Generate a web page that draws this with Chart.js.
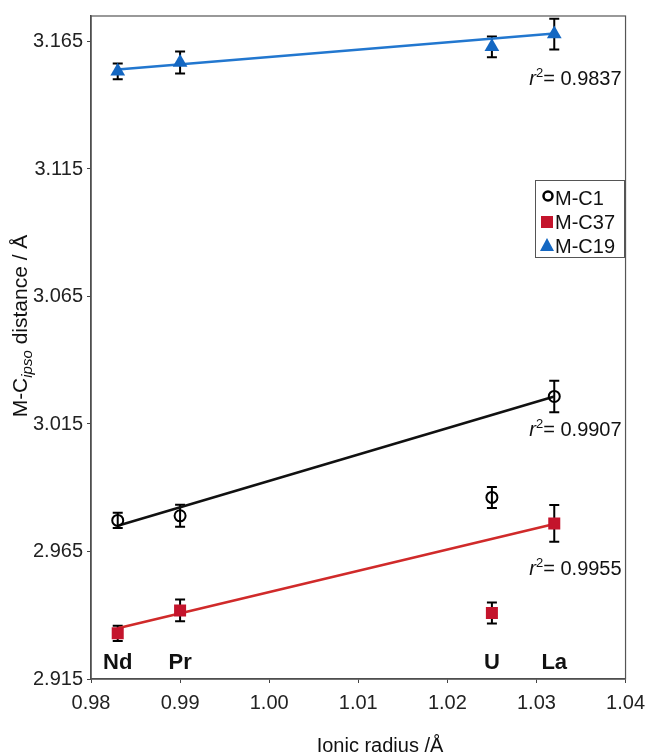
<!DOCTYPE html>
<html><head><meta charset="utf-8">
<script src="https://cdn.jsdelivr.net/npm/chart.js@4.4.0/dist/chart.umd.min.js"></script>
<style>html,body{margin:0;padding:0;background:#fff;}</style>
</head><body>
<canvas id="c" width="653" height="755"></canvas>
<script>
// ---- data ----
const elements = ['Nd', 'Pr', 'U', 'La'];
const ionicRadius = [0.983, 0.990, 1.025, 1.032];
const mc1 = [2.9772, 2.9790, 2.9862, 3.0258];
const mc1Err = [0.0030, 0.0043, 0.0041, 0.0062];
const mc37 = [2.9329, 2.9419, 2.9409, 2.9760];
const mc37Err = [0.0030, 0.0043, 0.0041, 0.0072];
const mc19 = [3.1533, 3.1568, 3.1629, 3.1679];
const mc19Err = [0.0031, 0.0043, 0.0041, 0.0060];
const fitX = [0.983, 1.032];
const fitC1 = [2.9751, 3.0258];
const fitC37 = [2.9349, 2.9758];
const fitC19 = [3.1540, 3.1681];
const r2Values = ['0.9837', '0.9907', '0.9955'];
const seriesNames = ['M-C1', 'M-C37', 'M-C19'];
const xTicks = [0.98, 0.99, 1.00, 1.01, 1.02, 1.03, 1.04];
const yTicks = [2.915, 2.965, 3.015, 3.065, 3.115, 3.165];

// ---- styling / annotation placement ----
const FONT = '"Liberation Sans", Arial, sans-serif';
const C_BLACK = '#000000', C_RED = '#c4142c', C_BLUE = '#1467c2';
const L_BLACK = '#111111', L_RED = '#d02a2a', L_BLUE = '#2277cf';
const r2Pos = [{x: 1.0292, y: 3.1506}, {x: 1.0292, y: 3.0129}, {x: 1.0292, y: 2.9587}];
const elemLabelY = 2.9212;

const pts = (xs, ys) => xs.map((x, i) => ({x, y: ys[i]}));

const errorBars = {
  id: 'errorBars',
  beforeDatasetsDraw(chart) {
    const {ctx, scales: {x, y}} = chart;
    ctx.save();
    ctx.strokeStyle = '#000';
    ctx.lineWidth = 2;
    [[mc1, mc1Err], [mc37, mc37Err], [mc19, mc19Err]].forEach(([vals, errs]) => {
      vals.forEach((v, i) => {
        const px = x.getPixelForValue(ionicRadius[i]);
        const top = y.getPixelForValue(v + errs[i]);
        const bot = y.getPixelForValue(v - errs[i]);
        ctx.beginPath();
        ctx.moveTo(px, top); ctx.lineTo(px, bot);
        ctx.moveTo(px - 5, top); ctx.lineTo(px + 5, top);
        ctx.moveTo(px - 5, bot); ctx.lineTo(px + 5, bot);
        ctx.stroke();
      });
    });
    ctx.restore();
  }
};

function drawR2(ctx, px, py, val) {
  ctx.textAlign = 'left';
  ctx.textBaseline = 'alphabetic';
  ctx.fillStyle = '#111';
  ctx.font = 'italic 20px ' + FONT;
  ctx.fillText('r', px, py);
  let w = ctx.measureText('r').width;
  ctx.font = '13px ' + FONT;
  ctx.fillText('2', px + w, py - 8);
  w += ctx.measureText('2').width;
  ctx.font = '20px ' + FONT;
  ctx.fillText('= ' + val, px + w, py);
}

const annotations = {
  id: 'annotations',
  afterDatasetsDraw(chart) {
    const {ctx, chartArea: a, scales: {x, y}} = chart;
    ctx.save();
    // frame
    ctx.strokeStyle = '#555';
    ctx.lineWidth = 1.2;
    ctx.strokeRect(a.left, a.top, a.right - a.left, a.bottom - a.top);

    // r^2 labels
    r2Values.forEach((v, i) => {
      drawR2(ctx, x.getPixelForValue(r2Pos[i].x), y.getPixelForValue(r2Pos[i].y) + 7, v);
    });

    // element labels
    ctx.font = 'bold 22px ' + FONT;
    ctx.fillStyle = '#111';
    ctx.textAlign = 'center';
    ctx.textBaseline = 'middle';
    elements.forEach((e, i) => {
      ctx.fillText(e, x.getPixelForValue(ionicRadius[i]), y.getPixelForValue(elemLabelY));
    });

    // legend
    const lx = 535, ly = 180, lw = 89, lh = 77;
    ctx.strokeStyle = '#555';
    ctx.lineWidth = 1;
    ctx.strokeRect(lx + 0.5, ly + 0.5, lw, lh);
    const rows = [198, 222, 246];
    ctx.font = '20px ' + FONT;
    ctx.textAlign = 'left';
    ctx.textBaseline = 'middle';
    ctx.fillStyle = '#111';
    seriesNames.forEach((n, i) => ctx.fillText(n, lx + 20, rows[i] + 1));
    // circle
    ctx.beginPath();
    ctx.lineWidth = 2.5; ctx.strokeStyle = '#000';
    ctx.arc(lx + 13, rows[0] - 2, 4.5, 0, Math.PI * 2);
    ctx.stroke();
    // square
    ctx.fillStyle = C_RED;
    ctx.fillRect(lx + 6, rows[1] - 6, 12, 12);
    // triangle
    ctx.fillStyle = C_BLUE;
    ctx.beginPath();
    ctx.moveTo(lx + 12, rows[2] - 8);
    ctx.lineTo(lx + 19, rows[2] + 5);
    ctx.lineTo(lx + 5, rows[2] + 5);
    ctx.closePath();
    ctx.fill();

    // x title
    ctx.fillStyle = '#111';
    ctx.font = '20px ' + FONT;
    ctx.textAlign = 'center';
    ctx.textBaseline = 'middle';
    ctx.fillText('Ionic radius /\u00C5', 380, 746);

    // y title with subscript
    ctx.translate(27, 326);
    ctx.rotate(-Math.PI / 2);
    ctx.textAlign = 'left';
    ctx.textBaseline = 'alphabetic';
    const p1 = 'M-C', p2 = 'ipso', p3 = ' distance / \u00C5';
    ctx.font = '21px ' + FONT; const w1 = ctx.measureText(p1).width;
    ctx.font = 'italic 15px ' + FONT; const w2 = ctx.measureText(p2).width;
    ctx.font = '21px ' + FONT; const w3 = ctx.measureText(p3).width;
    let sx = -(w1 + w2 + w3) / 2;
    ctx.font = '21px ' + FONT; ctx.fillText(p1, sx, 0); sx += w1;
    ctx.font = 'italic 15px ' + FONT; ctx.fillText(p2, sx, 5); sx += w2;
    ctx.font = '21px ' + FONT; ctx.fillText(p3, sx, 0);
    ctx.restore();
  }
};

const tickFont = {family: FONT, size: 20};

new Chart(document.getElementById('c'), {
  type: 'scatter',
  data: {
    datasets: [
      {label: 'fit C1', data: pts(fitX, fitC1), showLine: true, pointRadius: 0, borderColor: L_BLACK, borderWidth: 2.5, order: 2},
      {label: 'fit C37', data: pts(fitX, fitC37), showLine: true, pointRadius: 0, borderColor: L_RED, borderWidth: 2.5, order: 2},
      {label: 'fit C19', data: pts(fitX, fitC19), showLine: true, pointRadius: 0, borderColor: L_BLUE, borderWidth: 2.5, order: 2},
      {label: seriesNames[0], data: pts(ionicRadius, mc1), pointStyle: 'circle', pointRadius: 5.5, backgroundColor: 'rgba(0,0,0,0)', borderColor: C_BLACK, borderWidth: 2, order: 1},
      {label: seriesNames[1], data: pts(ionicRadius, mc37), pointStyle: 'rect', pointRadius: 8.5, backgroundColor: C_RED, borderColor: C_RED, borderWidth: 0, order: 1},
      {label: seriesNames[2], data: pts(ionicRadius, mc19), pointStyle: 'triangle', pointRadius: 8.5, backgroundColor: C_BLUE, borderColor: C_BLUE, borderWidth: 0, order: 1}
    ]
  },
  options: {
    responsive: false,
    animation: false,
    devicePixelRatio: 1,
    layout: {padding: {top: 13, right: 25, left: 0, bottom: 0}},
    plugins: {legend: {display: false}, tooltip: {enabled: false}},
    scales: {
      x: {
        type: 'linear', min: 0.98, max: 1.04,
        afterBuildTicks: ax => { ax.ticks = xTicks.map(v => ({value: v})); },
        afterFit: ax => { ax.height = 76; },
        ticks: {font: tickFont, color: '#222', padding: 8, maxRotation: 0, autoSkip: false, callback: v => v.toFixed(2)},
        grid: {display: true, drawOnChartArea: false, drawTicks: true, tickLength: 4, color: '#444', lineWidth: 1},
        border: {display: true, color: '#444', width: 1.5}
      },
      y: {
        type: 'linear', min: 2.915, max: 3.175,
        afterBuildTicks: ax => { ax.ticks = yTicks.map(v => ({value: v})); },
        afterFit: ax => { ax.width = 91; },
        ticks: {font: tickFont, color: '#222', padding: 4, autoSkip: false, callback: v => v.toFixed(3)},
        grid: {display: true, drawOnChartArea: false, drawTicks: true, tickLength: 4, color: '#444', lineWidth: 1},
        border: {display: true, color: '#444', width: 1.5}
      }
    }
  },
  plugins: [errorBars, annotations]
});
</script>
</body></html>
